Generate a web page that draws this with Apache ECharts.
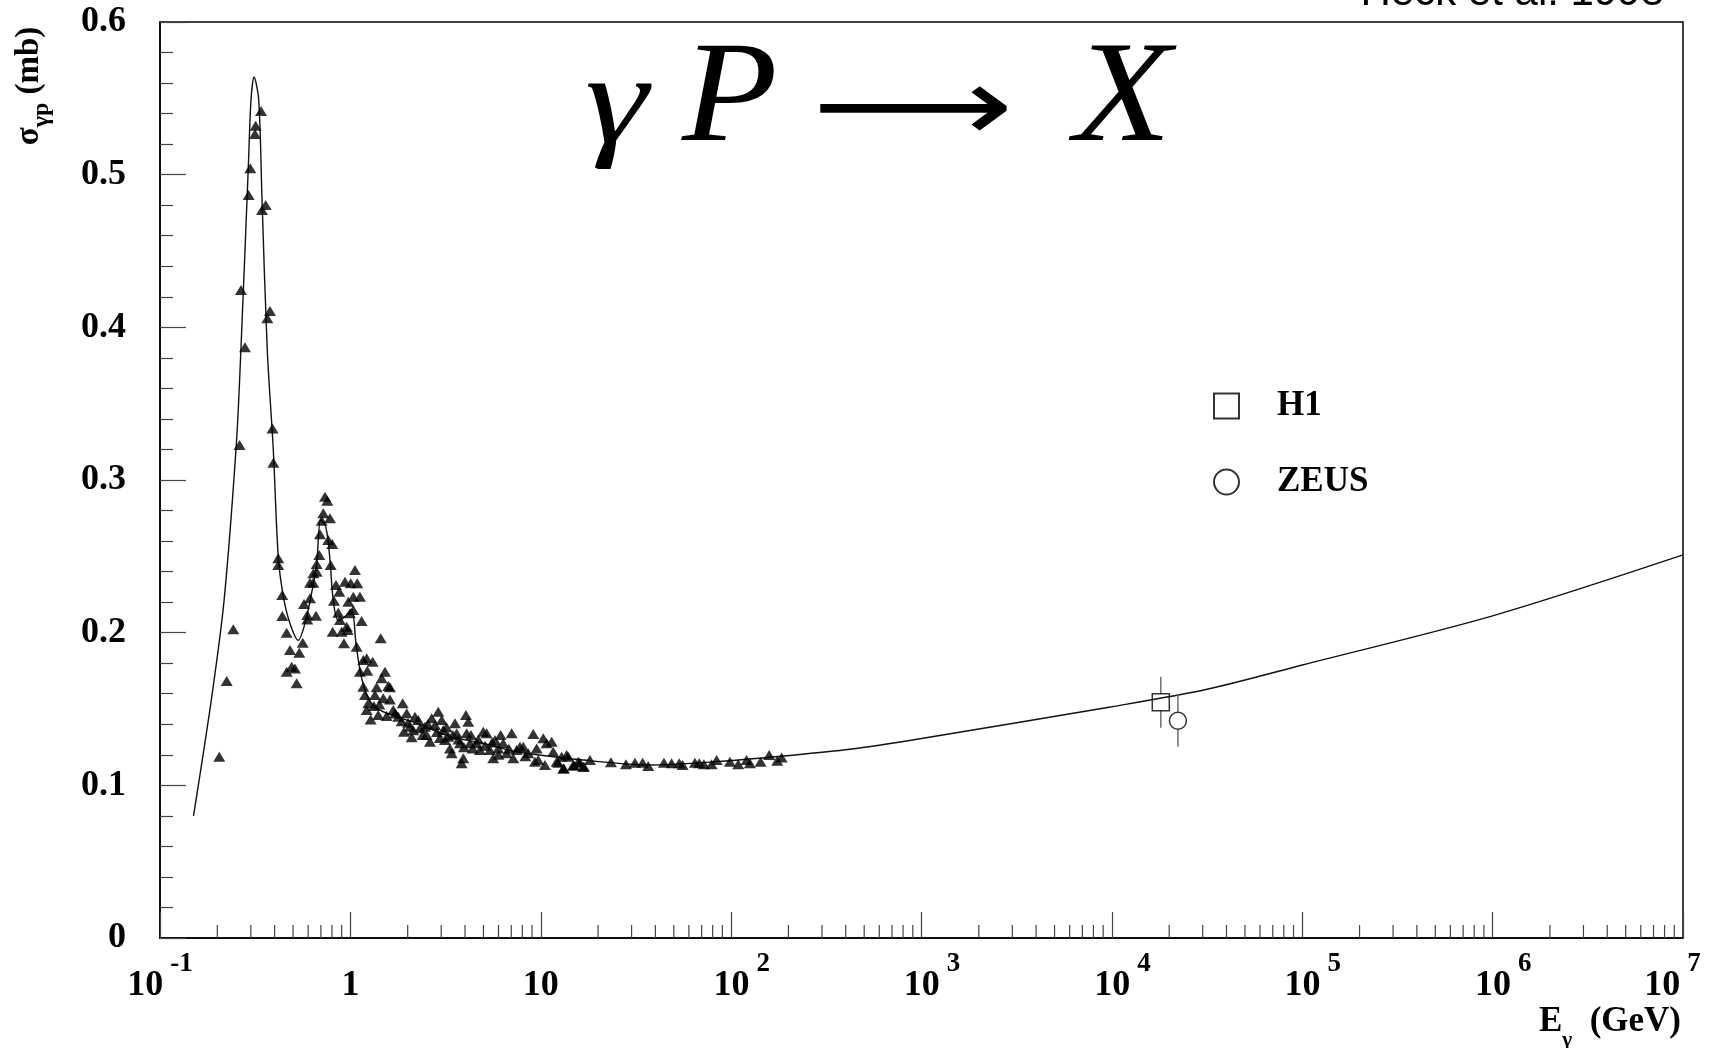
<!DOCTYPE html>
<html>
<head>
<meta charset="utf-8">
<script src="https://cdn.jsdelivr.net/npm/echarts@6/dist/echarts.min.js"></script>
<style>
html,body{margin:0;padding:0;background:#fff;}
#chart{width:1723px;height:1048px;}
</style>
</head>
<body>
<div id="chart"></div>
<script>
// ---------------- DATA ----------------
// x tick labels (decades)
const xTickValues = [0.1, 1, 10, 100, 1e3, 1e4, 1e5, 1e6, 1e7];
const xTickLabels = ['10^-1', '1', '10', '10^2', '10^3', '10^4', '10^5', '10^6', '10^7'];
const yTickValues = [0, 0.1, 0.2, 0.3, 0.4, 0.5, 0.6];

// fitted curve: photon energy (GeV) and cross section (mb)
const curveE = [0.150, 0.187, 0.217, 0.2516, 0.266, 0.291, 0.3006, 0.312, 0.330, 0.3436, 0.366, 0.3936,
  0.4178, 0.4442, 0.4817, 0.532, 0.5776, 0.626, 0.665, 0.698, 0.744, 0.781, 0.813, 0.864, 0.937, 1.016,
  1.07, 1.123, 1.193, 1.294, 1.489, 2.229, 3.336, 4.989, 7.469, 16.72, 37.45, 83.9, 187.9, 420.7, 1000,
  1e4, 31620, 1e5, 1e6, 1e7];
const curveS = [0.080, 0.158, 0.221, 0.323, 0.385, 0.505, 0.549, 0.564, 0.549, 0.483, 0.385, 0.320,
  0.250, 0.224, 0.206, 0.195, 0.206, 0.226, 0.245, 0.274, 0.269, 0.248, 0.221, 0.208, 0.2105, 0.215,
  0.193, 0.1755, 0.1624, 0.1537, 0.1482, 0.1406, 0.1319, 0.1275, 0.122, 0.1166, 0.1133, 0.1155, 0.1192,
  0.1236, 0.1307, 0.1515, 0.1629, 0.1788, 0.211, 0.2509];

// low-energy measurements (Delta region)
const deltaPts = [[0.2048,0.1188],[0.224,0.1683],[0.2427,0.2022],[0.2618,0.3229],[0.2663,0.4244],
  [0.2795,0.3869],[0.2922,0.4867],[0.298,0.5042],[0.3154,0.5266],[0.318,0.5321],[0.3393,0.5417],
  [0.3434,0.4768],[0.359,0.4801],[0.3663,0.4059],[0.3781,0.4107],[0.39,0.3337],[0.394,0.3113]];

// resonance region measurements
const resonancePts = [[0.418,0.2487],[0.418,0.2443],[0.4387,0.2247],[0.439,0.2109],[0.4627,0.200],
  [0.4817,0.1886],[0.463,0.1744],[0.4917,0.1777],[0.5117,0.1766],[0.5224,0.1668],[0.539,0.1869],
  [0.5618,0.1934],[0.5706,0.2188],[0.5938,0.2116],[0.594,0.2087],[0.6136,0.2225],[0.614,0.2327],
  [0.6386,0.2327],[0.639,0.2389],[0.6653,0.2399],[0.665,0.245],[0.6597,0.2111],[0.6866,0.2509],
  [0.6924,0.2644],[0.7069,0.2733],[0.7207,0.2782],[0.7356,0.2891],[0.7564,0.2864],[0.7814,0.2749],
  [0.7655,0.2607],[0.8035,0.2581],[0.788,0.2443],[0.82,0.2209],[0.8403,0.2312],[0.8745,0.2268],
  [0.8639,0.2131],[0.882,0.2083],[0.8074,0.2006],[0.900,0.2006],[0.9256,0.193],[0.9367,0.2334],
  [0.956,0.2039],[0.9678,0.2017],[0.975,0.2203],[0.995,0.2127],[1.004,0.2323],[1.036,0.2236],
  [1.036,0.2148],[1.057,0.241],[1.087,0.2323],[1.123,0.2236],[1.146,0.2076],[1.079,0.1908],
  [1.169,0.1821],[1.218,0.1832],[1.227,0.1751],[1.31,0.181],[1.123,0.1744],[1.443,0.1963]];

// 1.1 - 20 GeV measurements
const midPts = [[1.519,0.1744],[1.46,0.1701],[1.581,0.1651],[1.614,0.1642],[1.374,0.1642],[1.169,0.1646],
  [1.193,0.1592],[1.346,0.1592],[1.489,0.157],[1.614,0.1563],[1.242,0.1537],[1.218,0.1493],[1.278,0.1432],
  [1.401,0.1461],[1.551,0.1454],[1.68,0.1493],[1.785,0.145],[1.883,0.1537],[1.912,0.1351],[1.976,0.1472],
  [2.056,0.1384],[2.098,0.1315],[2.184,0.145],[2.273,0.1428],[2.32,0.1374],[2.465,0.1384],[2.516,0.133],
  [2.618,0.1286],[2.673,0.1439],[2.782,0.1395],[2.895,0.1482],[3.017,0.1428],[3.076,0.1362],[3.14,0.1297],
  [3.267,0.1319],[3.336,0.1242],[3.404,0.121],[3.543,0.1406],[3.617,0.1341],[3.764,0.1275],[3.842,0.1144],
  [3.917,0.1177],[4.046,0.1461],[4.161,0.1417],[4.081,0.1341],[4.247,0.1275],[4.388,0.1242],[4.605,0.1275],
  [4.793,0.1231],[4.989,0.1351],[5.197,0.1341],[5.409,0.1231],[5.629,0.1177],[5.745,0.1297],[5.98,0.1242],
  [6.156,0.133],[6.353,0.1275],[6.622,0.121],[7.034,0.1341],[7.171,0.1177],[7.469,0.1231],[7.773,0.1253],
  [8.09,0.1253],[8.6,0.121],[9.134,0.1336],[9.322,0.1155],[9.515,0.1242],[9.7,0.1166],[10.31,0.1308],
  [10.52,0.1133],[10.74,0.1275],[11.41,0.1286],[11.63,0.122],[12.12,0.1155],[12.87,0.1188],[13.13,0.1111],
  [13.68,0.1199],[14.82,0.1133],[15.74,0.1155],[16.72,0.1122],[18.13,0.1166],
  [1.33,0.1520],[1.42,0.1530],[1.72,0.1470],[1.86,0.1420],[2.01,0.1410],[2.14,0.1360],[2.40,0.1330],
  [2.55,0.1400],[2.85,0.1350],[2.95,0.1310],[3.20,0.1380],[3.45,0.1330],[3.70,0.1300],[3.95,0.1250],
  [4.30,0.1330],[4.70,0.1300],[5.10,0.1260],[5.55,0.1280],[6.00,0.1200],[6.80,0.1240],[8.30,0.1190]];

// 12 - 200 GeV measurements
const highPts = [[12.36,0.1148],[13.23,0.1111],[13.94,0.1188],[14.94,0.1129],[16.06,0.1148],[16.86,0.1122],
  [23.37,0.1151],[28.02,0.1138],[31.24,0.1148],[34.28,0.1148],[36.68,0.1127],[44.36,0.1148],[48.68,0.1144],
  [53.39,0.1144],[55.62,0.1133],[64.53,0.1148],[68.0,0.1144],[71.95,0.1138],[78.96,0.1138],[83.9,0.1166],
  [98.5,0.1155],[109,0.1138],[120.6,0.1166],[125.5,0.1144],[142.8,0.1155],[158.5,0.1199],[174.7,0.1161],
  [184.2,0.1183]];

// HERA points: [E, sigma, error]
const h1Data = [[18070, 0.1544, 0.0167]];
const zeusData = [[22230, 0.1423, 0.017]];

// ---------------- CHART ----------------
const SERIF = "'Liberation Serif', 'Times New Roman', 'DejaVu Serif', serif";
const minorX = [];
for (let n = -1; n <= 6; n++) for (let k = 2; k <= 9; k++) minorX.push([k * Math.pow(10, n), 0]);

const chart = echarts.init(document.getElementById('chart'), null, {renderer: 'canvas'});

function errRender(params, api) {
  const x = api.value(0), y = api.value(1), e = api.value(2);
  const c = api.coord([x, y]);
  const t = api.coord([x, y + e]);
  const b = api.coord([x, y - e]);
  const h = 8.5;
  const st = {stroke: '#777', lineWidth: 1.6};
  return {type: 'group', children: [
    {type: 'line', shape: {x1: c[0], y1: t[1], x2: c[0], y2: c[1] - h}, style: st},
    {type: 'line', shape: {x1: c[0], y1: c[1] + h, x2: c[0], y2: b[1]}, style: st}
  ]};
}

const triStyle = {
  type: 'scatter', symbol: 'triangle', symbolSize: [12, 10],
  itemStyle: {color: '#000'}, silent: true, z: 4
};

const option = {
  backgroundColor: '#fff',
  animation: false,
  grid: {left: 160, top: 22, width: 1523, height: 916, show: true, borderColor: '#000', borderWidth: 1.5,
    outerBoundsMode: 'none', containLabel: false},
  legend: {
    data: ['H1', 'ZEUS'], orient: 'vertical', left: 1208, top: 381,
    itemWidth: 25, itemHeight: 25, itemGap: 36, selectedMode: false,
    textStyle: {fontFamily: SERIF, fontWeight: 'bold', fontSize: 35, color: '#000', lineHeight: 40,
      padding: [0, 0, 0, 33]}
  },
  xAxis: {
    type: 'log', logBase: 10, min: 0.1, max: 1e7, splitNumber: 8,
    axisLine: {show: true, lineStyle: {color: '#000', width: 1.5}},
    axisTick: {show: true, inside: true, length: 26, lineStyle: {color: '#444', width: 1.2}},
    minorTick: {show: false}, splitLine: {show: false}, minorSplitLine: {show: false},
    axisLabel: {
      show: true, interval: 0, margin: 22, showMinLabel: true, showMaxLabel: true,
      formatter: function (v) {
        const i = xTickValues.findIndex(t => Math.abs(Math.log10(t) - Math.log10(v)) < 1e-6);
        if (i < 0) return '';
        const parts = xTickLabels[i].split('^');
        if (parts.length === 1) return '{b|' + parts[0] + '}';
        if (i === 0) return '{b|' + parts[0] + '}{sup|' + parts[1] + '}';
        if (i === xTickValues.length - 1) return '{b|' + parts[0] + '}{sup|' + parts[1] + '}{pad| }';
        return '{pad| }{b|' + parts[0] + '}{sup|' + parts[1] + '}';
      },
      rich: {
        b: {fontFamily: SERIF, fontWeight: 'bold', fontSize: 36, lineHeight: 34, color: '#000', padding: [18, 0, 0, 0]},
        sup: {fontFamily: SERIF, fontWeight: 'bold', fontSize: 27, lineHeight: 27, color: '#000', padding: [0, 0, 25, 7]},
        pad: {width: 21, fontSize: 10, lineHeight: 10}
      }
    }
  },
  yAxis: {
    type: 'value', min: 0, max: 0.6, interval: 0.1,
    axisLine: {show: true, lineStyle: {color: '#000', width: 1.5}},
    axisTick: {show: true, inside: true, length: 26, lineStyle: {color: '#444', width: 1.2}},
    minorTick: {show: true, splitNumber: 5, length: 13, lineStyle: {color: '#444', width: 1.2}},
    splitLine: {show: false},
    axisLabel: {
      margin: 34, fontFamily: SERIF, fontWeight: 'bold', fontSize: 36, color: '#000', padding: [5, 0, 0, 0],
      formatter: function (v) {
        const i = yTickValues.findIndex(t => Math.abs(t - v) < 1e-9);
        return i < 0 ? '' : String(yTickValues[i]);
      }
    }
  },
  series: [
    {
      name: 'fit', type: 'line', data: curveE.map((e, i) => [e, curveS[i]]),
      showSymbol: false, symbol: 'none', smooth: 0.3, silent: true, z: 3,
      lineStyle: {color: '#111', width: 1.4}
    },
    Object.assign({name: 'delta', data: deltaPts}, triStyle),
    Object.assign({name: 'resonance', data: resonancePts}, triStyle),
    Object.assign({name: 'mid', data: midPts}, triStyle),
    Object.assign({name: 'high', data: highPts}, triStyle),
    {name: 'h1err', type: 'custom', data: h1Data, renderItem: errRender, silent: true, z: 5},
    {name: 'zeuserr', type: 'custom', data: zeusData, renderItem: errRender, silent: true, z: 5},
    {
      name: 'H1', type: 'scatter', data: h1Data.map(d => [d[0], d[1]]), symbol: 'rect', symbolSize: 17,
      itemStyle: {color: 'rgba(0,0,0,0)', borderColor: '#000', borderWidth: 1.5}, silent: true, z: 6
    },
    {
      name: 'ZEUS', type: 'scatter', data: zeusData.map(d => [d[0], d[1]]), symbol: 'circle', symbolSize: 17,
      itemStyle: {color: 'rgba(0,0,0,0)', borderColor: '#000', borderWidth: 1.5}, silent: true, z: 6
    },
    {
      name: 'xminor', type: 'custom', data: minorX, silent: true, z: 5, clip: false,
      renderItem: function (params, api) {
        const p = api.coord([api.value(0), api.value(1)]);
        return {type: 'line', shape: {x1: p[0], y1: p[1], x2: p[0], y2: p[1] - 13},
          style: {stroke: '#444', lineWidth: 1.2}};
      }
    }
  ],
  graphic: [
    {type: 'text', x: 1664, y: 14, silent: true,
      style: {text: 'Heck et al. 1998', fontFamily: "'Liberation Sans', Arial, sans-serif", fontSize: 42,
        fill: '#000', align: 'right', verticalAlign: 'bottom'}},
    {type: 'text', x: 585, y: 108, scaleX: 1.25, silent: true,
      style: {text: 'γ', fontFamily: SERIF, fontStyle: 'italic', fontSize: 128, fill: '#000', align: 'left', verticalAlign: 'middle'}},
    {type: 'text', x: 682, y: 102, scaleX: 1.08, silent: true,
      style: {text: 'P', fontFamily: SERIF, fontStyle: 'italic', fontSize: 145, fill: '#000', align: 'left', verticalAlign: 'middle'}},
    {type: 'text', x: 913, y: 114, scaleX: 1.35, silent: true,
      style: {text: '⟶', fontFamily: "'DejaVu Sans', sans-serif", fontSize: 104, fill: '#000', align: 'center', verticalAlign: 'middle'}},
    {type: 'text', x: 1074, y: 102, scaleX: 1.1, silent: true,
      style: {text: 'X', fontFamily: SERIF, fontStyle: 'italic', fontSize: 145, fill: '#000', align: 'left', verticalAlign: 'middle'}},
    {type: 'text', x: 33, y: 86, rotation: Math.PI / 2, silent: true,
      style: {text: '{a|σ}{s|γp}{a| (mb)}', align: 'center', verticalAlign: 'middle',
        rich: {
          a: {fontFamily: SERIF, fontWeight: 'bold', fontSize: 33, lineHeight: 33, fill: '#000', padding: [0, 0, 8, 0]},
          s: {fontFamily: SERIF, fontWeight: 'bold', fontSize: 24, lineHeight: 24, fill: '#000', padding: [17, 0, 0, 0]}
        }}},
    {type: 'text', x: 1681, y: 1028, silent: true,
      style: {text: '{a|E}{s|γ}{a|  (GeV)}', align: 'right', verticalAlign: 'middle',
        rich: {
          a: {fontFamily: SERIF, fontWeight: 'bold', fontSize: 35, lineHeight: 35, fill: '#000', padding: [0, 0, 12, 0]},
          s: {fontFamily: SERIF, fontWeight: 'bold', fontSize: 21, lineHeight: 21, fill: '#000', padding: [26, 0, 0, 0]}
        }}}
  ]
};
chart.setOption(option);
</script>
</body>
</html>
